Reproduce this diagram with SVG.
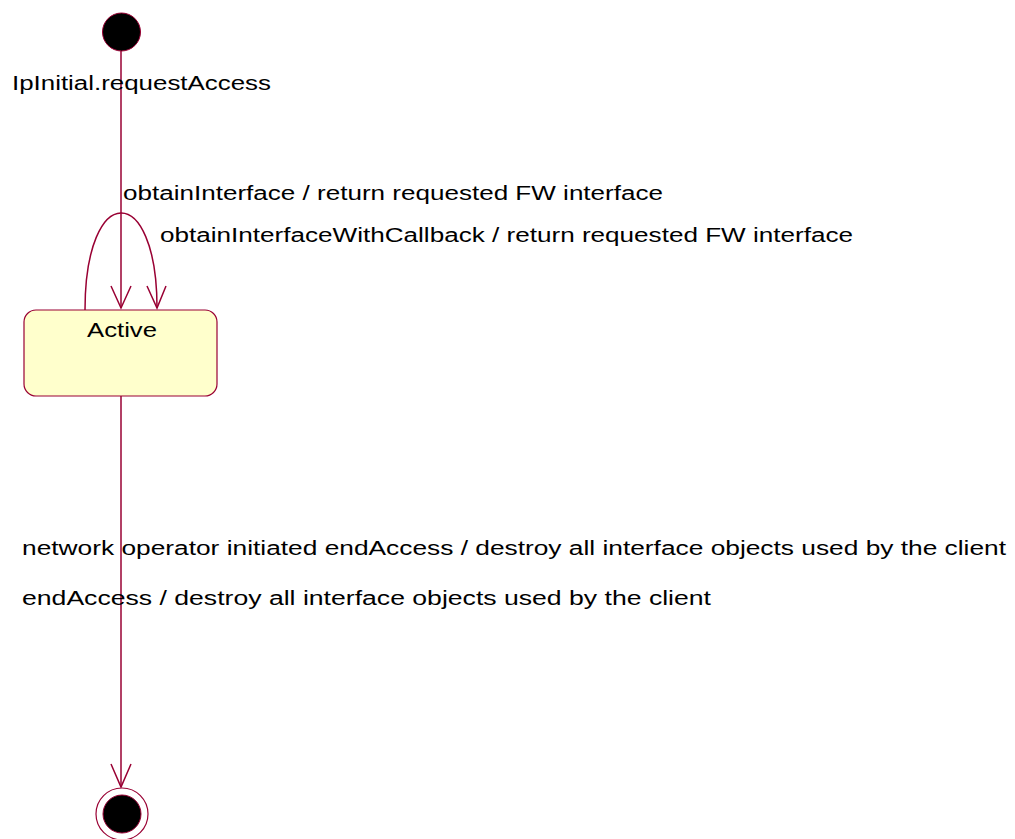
<svg xmlns="http://www.w3.org/2000/svg" width="1015" height="839" viewBox="0 0 1015 839">
<style>
.ln{fill:none;stroke:#990033;stroke-width:1.5}
.t{font-family:"Liberation Sans",Arial,sans-serif;font-size:20px;fill:#000}
</style>
<rect width="1015" height="839" fill="#fff"/>
<g id="connectors">
<path class="ln" d="M121,51 L121,308"/>
<path class="ln" d="M111,286 L121,308 L131,286"/>
<path class="ln" d="M85,310 C85,181 157,181 157,308"/>
<path class="ln" d="M147,286 L157,308 L166,286"/>
<path class="ln" d="M121,396 L121,787"/>
<path class="ln" d="M111,764 L121,787 L131,764"/>
<text class="t" x="12" y="90" textLength="259" lengthAdjust="spacingAndGlyphs">IpInitial.requestAccess</text>
<text class="t" x="123" y="200" textLength="540" lengthAdjust="spacingAndGlyphs">obtainInterface / return requested FW interface</text>
<text class="t" x="160" y="242" textLength="693" lengthAdjust="spacingAndGlyphs">obtainInterfaceWithCallback / return requested FW interface</text>
<text class="t" x="22" y="555" textLength="984" lengthAdjust="spacingAndGlyphs">network operator initiated endAccess / destroy all interface objects used by the client</text>
<text class="t" x="22" y="605" textLength="689" lengthAdjust="spacingAndGlyphs">endAccess / destroy all interface objects used by the client</text>
</g>
<g id="initial">
<circle cx="121.5" cy="32" r="19" fill="#000" stroke="#990033" stroke-width="1"/>
</g>
<g id="active">
<rect x="24" y="310" width="193" height="86" rx="12" ry="12" fill="#FFFFCC" stroke="#990033" stroke-width="1.2"/>
<text class="t" x="87" y="337" textLength="70" lengthAdjust="spacingAndGlyphs">Active</text>
</g>
<g id="final">
<circle cx="122" cy="814" r="26" fill="#fff" stroke="#990033" stroke-width="1.2"/>
<circle cx="122" cy="814" r="19" fill="#000" stroke="#990033" stroke-width="1"/>
</g>
</svg>
